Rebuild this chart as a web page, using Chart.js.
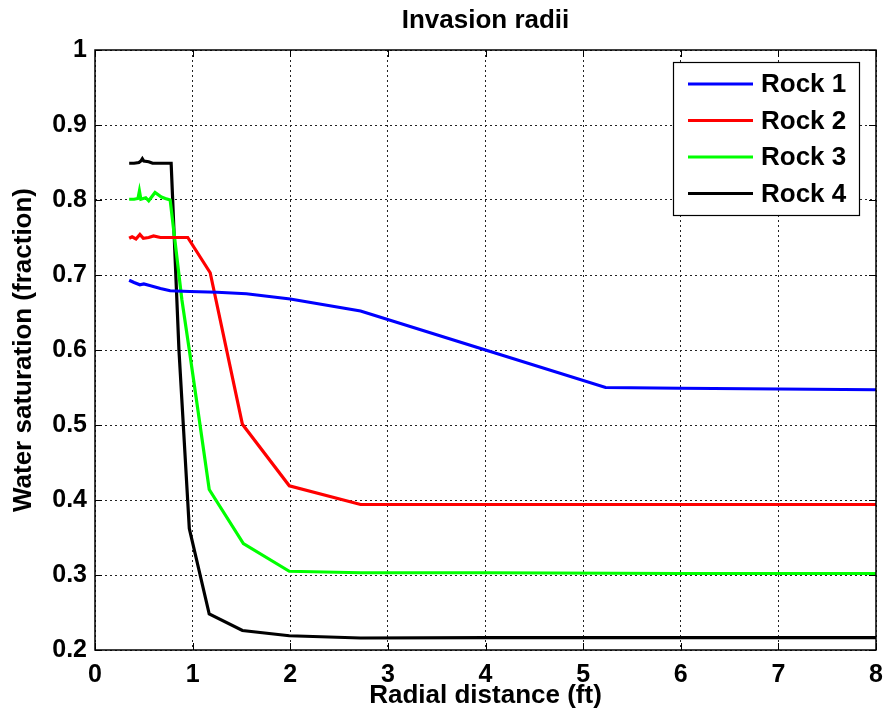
<!DOCTYPE html>
<html>
<head>
<meta charset="utf-8">
<title>Invasion radii</title>
<script src="https://cdn.jsdelivr.net/npm/chart.js@4"></script>
<style>
  html, body { margin: 0; padding: 0; background: #fff; }
  #wrap { width: 888px; height: 721px; }
</style>
</head>
<body>
<div id="wrap"><canvas id="myChart" width="888" height="721"></canvas></div>
<script>
// radial distance (ft) and water saturation (fraction) for each rock
const rock1X = [0.35, 0.40, 0.46, 0.50, 0.56, 0.67, 0.77, 0.97, 1.25, 1.55, 2.00, 2.72, 4.00, 5.23, 6.00, 7.00, 8.00];
const rock1Y = [0.693, 0.690, 0.687, 0.688, 0.686, 0.682, 0.679, 0.678, 0.677, 0.675, 0.668, 0.652, 0.600, 0.550, 0.549, 0.548, 0.547];

const rock2X = [0.35, 0.38, 0.42, 0.46, 0.495, 0.55, 0.60, 0.67, 0.80, 0.95, 1.18, 1.51, 1.99, 2.72, 4.00, 6.00, 8.00];
const rock2Y = [0.749, 0.751, 0.748, 0.754, 0.749, 0.750, 0.752, 0.750, 0.750, 0.750, 0.703, 0.501, 0.419, 0.394, 0.394, 0.394, 0.394];

const rock3X = [0.35, 0.40, 0.44, 0.455, 0.47, 0.52, 0.55, 0.615, 0.68, 0.72, 0.77, 0.89, 0.966, 1.076, 1.17, 1.52, 1.99, 2.72, 4.00, 6.00, 8.00];
const rock3Y = [0.801, 0.801, 0.802, 0.812, 0.801, 0.803, 0.799, 0.810, 0.804, 0.802, 0.800, 0.667, 0.600, 0.500, 0.414, 0.342, 0.305, 0.303, 0.303, 0.302, 0.302];

const rock4X = [0.35, 0.40, 0.45, 0.47, 0.485, 0.50, 0.55, 0.59, 0.65, 0.70, 0.78, 0.86, 0.966, 1.17, 1.51, 1.99, 2.72, 4.00, 6.00, 8.00];
const rock4Y = [0.849, 0.849, 0.850, 0.852, 0.855, 0.852, 0.851, 0.849, 0.849, 0.849, 0.849, 0.600, 0.362, 0.248, 0.226, 0.219, 0.216, 0.2165, 0.2165, 0.2165];

const seriesNames = ["Rock 1", "Rock 2", "Rock 3", "Rock 4"];
const seriesColors = ["#0000ff", "#ff0000", "#00ff00", "#000000"];

const xTicks = [0, 1, 2, 3, 4, 5, 6, 7, 8];
const yTicks = [0.2, 0.3, 0.4, 0.5, 0.6, 0.7, 0.8, 0.9, 1];

const FONT = "'Liberation Sans', Arial, Helvetica, sans-serif";

function zip(xs, ys) {
    return xs.map(function (x, i) { return { x: x, y: ys[i] }; });
}

const allX = [rock1X, rock2X, rock3X, rock4X];
const allY = [rock1Y, rock2Y, rock3Y, rock4Y];

const datasets = seriesNames.map(function (name, i) {
    return {
        label: name,
        data: zip(allX[i], allY[i]),
        borderColor: seriesColors[i],
        backgroundColor: seriesColors[i],
        borderWidth: 3.2,
        pointRadius: 0,
        tension: 0,
        fill: false
    };
});

// box around the axes with inward tick marks (top/right too)
const axesBox = {
    id: 'axesBox',
    afterDatasetsDraw(chart) {
        const ctx = chart.ctx;
        const a = chart.chartArea;
        const xs = chart.scales.x, ys = chart.scales.y;
        const len = 7;
        ctx.save();
        ctx.strokeStyle = '#000';
        ctx.lineWidth = 1.5;
        ctx.strokeRect(a.left, a.top, a.right - a.left, a.bottom - a.top);
        ctx.lineWidth = 1;
        ctx.beginPath();
        xTicks.forEach(function (v) {
            const p = Math.round(xs.getPixelForValue(v)) + 0.5;
            ctx.moveTo(p, a.bottom); ctx.lineTo(p, a.bottom - len);
            ctx.moveTo(p, a.top); ctx.lineTo(p, a.top + len);
        });
        yTicks.forEach(function (v) {
            const p = Math.round(ys.getPixelForValue(v)) + 0.5;
            ctx.moveTo(a.left, p); ctx.lineTo(a.left + len, p);
            ctx.moveTo(a.right, p); ctx.lineTo(a.right - len, p);
        });
        ctx.stroke();
        ctx.restore();
    }
};

// legend box in the upper right corner of the plot
const boxLegend = {
    id: 'boxLegend',
    afterDraw(chart) {
        const ctx = chart.ctx;
        const a = chart.chartArea;
        const w = 186, h = 153;
        const x0 = a.right - 17 - w, y0 = a.top + 12;
        ctx.save();
        ctx.fillStyle = '#fff';
        ctx.fillRect(x0, y0, w, h);
        ctx.strokeStyle = '#000';
        ctx.lineWidth = 1.2;
        ctx.strokeRect(x0 + 0.5, y0 + 0.5, w, h);
        ctx.font = 'bold 26px ' + FONT;
        ctx.textBaseline = 'middle';
        ctx.textAlign = 'left';
        chart.data.datasets.forEach(function (ds, i) {
            const cy = y0 + 22 + i * 36.5;
            ctx.strokeStyle = ds.borderColor;
            ctx.lineWidth = 3.2;
            ctx.beginPath();
            ctx.moveTo(x0 + 15, cy);
            ctx.lineTo(x0 + 80, cy);
            ctx.stroke();
            ctx.fillStyle = '#000';
            ctx.fillText(ds.label, x0 + 88, cy + 1);
        });
        ctx.restore();
    }
};

const config = {
    type: 'line',
    data: { datasets: datasets },
    options: {
        responsive: false,
        animation: false,
        layout: { padding: { left: 0, right: 12, top: 0, bottom: 0 } },
        scales: {
            x: {
                type: 'linear',
                min: 0,
                max: 8,
                afterBuildTicks: function (scale) {
                    scale.ticks = xTicks.map(function (v) { return { value: v }; });
                },
                afterFit: function (scale) {
                    scale.height = 71;
                    scale.paddingLeft = 0;
                    scale.paddingRight = 0;
                },
                ticks: {
                    color: '#000',
                    font: { family: FONT, size: 25, weight: 'bold' },
                    padding: 10,
                    maxRotation: 0,
                    callback: function (v) { return String(v); }
                },
                grid: { color: '#222', lineWidth: 1, drawTicks: false },
                border: { display: false, dash: [2, 3] },
                title: {
                    display: true,
                    text: 'Radial distance (ft)',
                    color: '#000',
                    font: { family: FONT, size: 26, weight: 'bold' },
                    padding: { top: 0, bottom: 10 }
                }
            },
            y: {
                type: 'linear',
                min: 0.2,
                max: 1,
                afterBuildTicks: function (scale) {
                    scale.ticks = yTicks.map(function (v) { return { value: v }; });
                },
                afterFit: function (scale) {
                    scale.width = 95;
                    scale.paddingTop = 0;
                    scale.paddingBottom = 0;
                },
                ticks: {
                    color: '#000',
                    font: { family: FONT, size: 25, weight: 'bold' },
                    padding: 8,
                    callback: function (v) { return String(Number(v.toFixed(1))); }
                },
                grid: { color: '#222', lineWidth: 1, drawTicks: false },
                border: { display: false, dash: [2, 3] },
                title: {
                    display: true,
                    text: 'Water saturation (fraction)',
                    color: '#000',
                    font: { family: FONT, size: 26, weight: 'bold' },
                    padding: { top: 8, bottom: 0 }
                }
            }
        },
        plugins: {
            title: {
                display: true,
                fullSize: false,
                text: 'Invasion radii',
                color: '#000',
                font: { family: FONT, size: 26, weight: 'bold' },
                padding: { top: 5, bottom: 13.8 }
            },
            legend: { display: false },
            tooltip: { enabled: false }
        }
    },
    plugins: [axesBox, boxLegend]
};

new Chart(document.getElementById('myChart'), config);
</script>
</body>
</html>
